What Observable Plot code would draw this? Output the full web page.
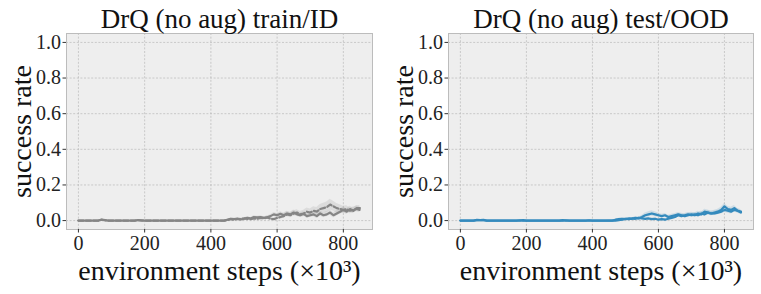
<!DOCTYPE html>
<html>
<head>
<meta charset="utf-8">
<script src="https://cdn.jsdelivr.net/npm/d3@7"></script>
<script src="https://cdn.jsdelivr.net/npm/@observablehq/plot@0.6"></script>
<style>
  body { margin: 0; background: white; }
  #wrap { position: relative; width: 761px; height: 294px; overflow: hidden; }
  .panel { position: absolute; top: 0; }
  svg, svg text, svg g { font-family: "Liberation Serif", serif !important; font-variant: normal !important; }
</style>
</head>
<body>
<div id="wrap">
  <div class="panel" id="p1" style="left:0px"></div>
  <div class="panel" id="p2" style="left:380px"></div>
</div>
<script>
// x values: environment steps (×10^3)
const steps = d3.range(0, 860, 10);

const xTicks = [0, 200, 400, 600, 800];
const yTicks = [0, 0.2, 0.4, 0.6, 0.8, 1.0];

const titles = ["DrQ (no aug) train/ID", "DrQ (no aug) test/OOD"];
const xLabel = "environment steps (×10³)";
const yLabel = "success rate";

// Left panel (train/ID) – solid series
const trainSolid = [
  0,0,0,0,0,0,0,0.006,0.003,0,
  0,0,0,0,0,0,0,0,0.003,0.002,
  0,0,0,0,0,0,0,0,0,0,
  0,0,0,0,0,0,0,0,0,0,
  0,0,0,0,0,
  0.005,0.01,0.008,0.01,0.006,0.01,0.015,0.012,0.02,0.018,
  0.02,0.015,0.018,0.025,0.035,0.03,0.038,0.03,0.04,0.035,
  0.045,0.035,0.03,0.038,0.025,0.03,0.035,0.025,0.04,0.03,
  0.035,0.045,0.03,0.04,0.05,0.06,0.05,0.065,0.055,0.07,
  0.07
];
const trainSolidSpread = [
  0,0,0,0,0,0,0,0.003,0.002,0,
  0,0,0,0,0,0,0,0,0.002,0.001,
  0,0,0,0,0,0,0,0,0,0,
  0,0,0,0,0,0,0,0,0,0,
  0,0,0,0,0,
  0.004,0.005,0.005,0.005,0.005,0.006,0.006,0.006,0.007,0.007,
  0.007,0.007,0.008,0.008,0.01,0.01,0.012,0.012,0.012,0.012,
  0.014,0.012,0.012,0.012,0.012,0.012,0.013,0.013,0.014,0.014,
  0.014,0.015,0.015,0.015,0.015,0.016,0.016,0.016,0.015,0.015,
  0.014
];
// Left panel – dashed series
const trainDashed = [
  0,0,0,0,0,0,0,0.004,0.002,0,
  0,0,0,0,0,0,0,0,0.002,0,
  0,0,0,0,0,0,0,0,0,0,
  0,0,0,0,0,0,0,0,0,0,
  0,0,0,0,0,
  0.003,0.008,0.005,0.01,0.008,0.012,0.01,0.008,0.012,0.01,
  0.015,0.012,0.018,0.01,0.008,0.015,0.02,0.025,0.035,0.03,
  0.04,0.045,0.035,0.04,0.05,0.045,0.055,0.05,0.065,0.07,
  0.075,0.09,0.08,0.07,0.065,0.06,0.065,0.055,0.06,0.065,
  0.06
];
const trainDashedSpread = [
  0,0,0,0,0,0,0,0.002,0.001,0,
  0,0,0,0,0,0,0,0,0.001,0,
  0,0,0,0,0,0,0,0,0,0,
  0,0,0,0,0,0,0,0,0,0,
  0,0,0,0,0,
  0.004,0.005,0.005,0.006,0.006,0.006,0.006,0.006,0.007,0.007,
  0.007,0.007,0.008,0.008,0.008,0.01,0.012,0.012,0.014,0.014,
  0.015,0.016,0.016,0.018,0.02,0.02,0.022,0.024,0.026,0.028,
  0.03,0.03,0.028,0.026,0.024,0.02,0.018,0.016,0.016,0.015,
  0.015
];

// Right panel (test/OOD)
const testA = [
  0,0,0,0,0,0.004,0.003,0.004,0,0,
  0,0,0,0,0,0,0,0,0,0.003,
  0,0,0,0,0,0,0,0,0,0,
  0,0.003,0,0,0,0,0,0,0,0.002,
  0,0,0,0,0,
  0,0,0.005,0.008,0.01,0.008,0.012,0.01,0.015,0.012,
  0.02,0.03,0.035,0.04,0.035,0.03,0.025,0.03,0.02,0.025,
  0.03,0.035,0.03,0.025,0.03,0.035,0.03,0.04,0.035,0.05,
  0.045,0.04,0.045,0.05,0.06,0.08,0.065,0.06,0.07,0.055,
  0.05
];
const testASpread = [
  0,0,0,0,0,0.002,0.002,0.002,0,0,
  0,0,0,0,0,0,0,0,0,0.002,
  0,0,0,0,0,0,0,0,0,0,
  0,0.002,0,0,0,0,0,0,0,0.001,
  0,0,0,0,0,
  0.002,0.003,0.004,0.005,0.005,0.005,0.006,0.006,0.007,0.007,
  0.009,0.012,0.014,0.015,0.014,0.012,0.01,0.01,0.01,0.01,
  0.01,0.011,0.011,0.011,0.011,0.012,0.012,0.012,0.012,0.014,
  0.014,0.013,0.013,0.014,0.015,0.016,0.016,0.015,0.015,0.013,
  0.012
];
const testB = [
  0,0,0,0,0,0.002,0.003,0.002,0,0,
  0,0,0,0,0,0,0,0,0.002,0,
  0,0,0,0,0,0,0,0,0,0,
  0,0,0.002,0,0,0,0,0,0,0,
  0,0,0,0,0,
  0,0,0,0.003,0.005,0.01,0.008,0.012,0.01,0.015,
  0.012,0.01,0.012,0.008,0.01,0.005,0.008,0.005,0.01,0.015,
  0.02,0.03,0.025,0.03,0.035,0.03,0.035,0.03,0.04,0.035,
  0.045,0.04,0.04,0.045,0.05,0.06,0.055,0.05,0.06,0.055,
  0.045
];
const testBSpread = [
  0,0,0,0,0,0.001,0.002,0.001,0,0,
  0,0,0,0,0,0,0,0,0.001,0,
  0,0,0,0,0,0,0,0,0,0,
  0,0,0.001,0,0,0,0,0,0,0,
  0,0,0,0,0,
  0.002,0.002,0.003,0.004,0.005,0.005,0.005,0.006,0.006,0.007,
  0.007,0.007,0.007,0.006,0.006,0.006,0.006,0.006,0.007,0.008,
  0.009,0.01,0.01,0.01,0.011,0.011,0.011,0.011,0.012,0.012,
  0.012,0.012,0.012,0.012,0.013,0.014,0.014,0.013,0.013,0.012,
  0.012
];

function rows(vals, spread) {
  return steps.map((x, i) => ({x, y: vals[i], lo: vals[i] - spread[i], hi: vals[i] + spread[i]}));
}

const FONT = "Liberation Serif";

function panel({title, seriesA, seriesB, color, dashB, width, marginLeft}) {
  return Plot.plot({
    width, height: 294,
    marginLeft, marginRight: 8, marginTop: 33, marginBottom: 65,
    x: {domain: [-36, 888]},
    y: {domain: [-0.05, 1.05]},
    style: {fontFamily: FONT, background: "white", color: "#222", overflow: "visible"},
    marks: [
      Plot.frame({fill: "#eeeeee", stroke: null}),
      Plot.gridX(xTicks, {stroke: "#b9b9b9", strokeOpacity: 1, strokeWidth: 0.7, strokeDasharray: "2,1.6"}),
      Plot.gridY(yTicks, {stroke: "#b9b9b9", strokeOpacity: 1, strokeWidth: 0.7, strokeDasharray: "2,1.6"}),
      Plot.areaY(seriesA, {x: "x", y1: "lo", y2: "hi", fill: color, fillOpacity: 0.16}),
      Plot.areaY(seriesB, {x: "x", y1: "lo", y2: "hi", fill: color, fillOpacity: 0.16}),
      Plot.lineY(seriesA, {x: "x", y: "y", stroke: color, strokeWidth: 2.2}),
      Plot.lineY(seriesB, {x: "x", y: "y", stroke: color, strokeWidth: 2.2, strokeDasharray: dashB ? "5,2.5" : null}),
      Plot.frame({stroke: "#bcbcbc", strokeWidth: 1}),
      Plot.axisX(xTicks, {tickSize: 3.5, tickPadding: 3, fontSize: 20, fontFamily: FONT, fontVariant: "normal", stroke: "#333", fill: "#222", label: null}),
      Plot.axisY(yTicks, {tickSize: 3.5, tickPadding: 2, fontSize: 20, fontFamily: FONT, fontVariant: "normal", stroke: "#333", fill: "#222", tickFormat: d3.format(".1f"), label: null}),
      Plot.text([title], {frameAnchor: "top", lineAnchor: "middle", textAnchor: "middle", text: d => d, dy: -14, fontSize: 27, fontFamily: FONT, fill: "#111"}),
      Plot.text([xLabel], {frameAnchor: "bottom", lineAnchor: "middle", textAnchor: "middle", text: d => d, dy: 42, fontSize: 28, fontFamily: FONT, fill: "#111"}),
      Plot.text([yLabel], {frameAnchor: "left", lineAnchor: "middle", textAnchor: "middle", text: d => d, rotate: -90, dx: -44, fontSize: 28, fontFamily: FONT, fill: "#111"})
    ]
  });
}

document.getElementById("p1").append(panel({
  title: titles[0],
  seriesA: rows(trainSolid, trainSolidSpread),
  seriesB: rows(trainDashed, trainDashedSpread),
  color: "#858585", dashB: true, width: 380, marginLeft: 66
}));
document.getElementById("p2").append(panel({
  title: titles[1],
  seriesA: rows(testA, testASpread),
  seriesB: rows(testB, testBSpread),
  color: "#348ABD", dashB: false, width: 381, marginLeft: 68
}));
</script>
</body>
</html>
